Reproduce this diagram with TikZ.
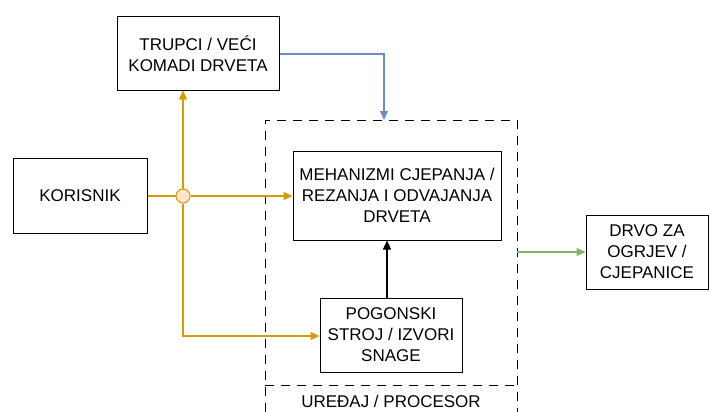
\documentclass[tikz,border=0pt]{standalone}
\usepackage{fontspec}
\setmainfont{Liberation Sans}
\usetikzlibrary{arrows.meta}
\definecolor{orng}{HTML}{D79B00}
\definecolor{orfill}{HTML}{FFE6CC}
\definecolor{blu}{HTML}{6C8EBF}
\definecolor{grn}{HTML}{82B366}
\begin{document}
\begin{tikzpicture}[x=1pt,y=-1pt,
  box/.style={draw=black,line width=1pt,fill=white,align=center,inner sep=0pt,
    font=\fontsize{17}{21}\selectfont},
  arr/.style={line width=1.1pt,-{Triangle[length=9pt,width=8pt]}},
  lane/.style={draw=black,line width=1pt,dash pattern=on 9pt off 7pt}]
\useasboundingbox (0,0) rectangle (709,412);
\node[box,minimum width=162pt,minimum height=73pt] (trupci) at (198,53.5) {TRUPCI / VEĆI\\KOMADI DRVETA};
\node[box,minimum width=134pt,minimum height=75pt] (kor) at (80,195.5) {KORISNIK};
\node[box,minimum width=208pt,minimum height=89pt] (meh) at (397,195.5) {MEHANIZMI CJEPANJA /\\REZANJA I ODVAJANJA\\DRVETA};
\node[box,minimum width=142pt,minimum height=74pt] (pog) at (391,335) {POGONSKI\\STROJ / IZVORI\\SNAGE};
\node[box,minimum width=122pt,minimum height=74pt] (drvo) at (647,252) {DRVO ZA\\OGRJEV /\\CJEPANICE};
% swimlane container
\coordinate (lanetl) at (265,120);
\coordinate (lanebr) at (517,385);
\draw[lane] (265,412) -- (265,120) -- (517,120) -- (517,412);
\draw[lane] (265,385) -- (517,385);
\node[font=\fontsize{17}{21}\selectfont,inner sep=0pt] (lanelbl) at (391,401) {UREĐAJ / PROCESOR};
\coordinate (lanetop) at (384,120);
\coordinate (laneright) at (517,252);
% connectors
\node[circle,draw=orng,fill=orfill,line width=1pt,minimum size=14pt,inner sep=0pt] (j) at (183,196) {};
\draw[orng,line width=1.1pt] (kor.east |- j) -- (j.west);
\draw[orng,arr] (j.east) -- (meh.west |- j);
\draw[orng,arr] (j.north) -- (j |- trupci.south);
\draw[orng,arr] (j.south) |- (pog.west |- 0,336);
\draw[blu,arr] (trupci.east |- 0,54) -| (lanetop);
\draw[black,arr] (pog.north -| 387,0) -- (meh.south -| 387,0);
\draw[grn,arr] (laneright) -- (drvo.west);
\end{tikzpicture}
\end{document}
